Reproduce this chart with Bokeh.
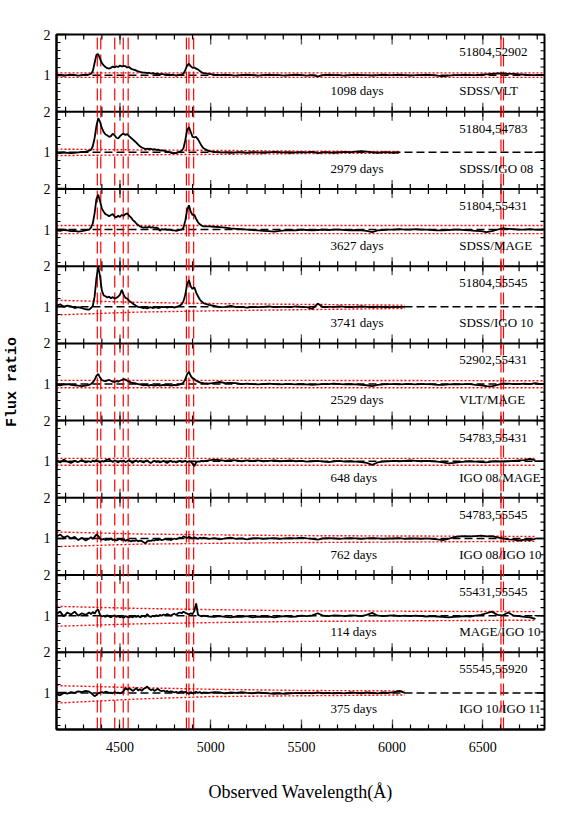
from bokeh.plotting import figure
from bokeh.models import ColumnDataSource, FixedTicker, Range1d, CustomJSTickFormatter
from bokeh.embed import file_html
from bokeh.resources import INLINE
from bokeh.core.properties import value

# ---------------- data ----------------
# sampling grid of the ratio spectra (Angstrom)
wavelength = (list(range(4150, 4340, 20)) + list(range(4340, 4970, 10))
              + list(range(4990, 6821, 30)) + [6835])

ratio_51804_52902 = [
    1.00, 1.01, 0.99, 1.00, 1.01, 1.00, 0.99, 1.00, 1.01, 1.02,
    1.03, 1.10, 1.30, 1.50, 1.52, 1.40, 1.30, 1.24, 1.20, 1.17,
    1.16, 1.18, 1.21, 1.19, 1.22, 1.20, 1.24, 1.21, 1.23, 1.22,
    1.19, 1.20, 1.16, 1.14, 1.13, 1.11, 1.09, 1.08, 1.07, 1.06,
    1.06, 1.05, 1.06, 1.04, 1.05, 1.03, 1.04, 1.03, 1.02, 1.03,
    1.02, 1.01, 1.02, 1.01, 1.00, 1.01, 1.00, 0.99, 1.00, 1.01,
    1.01, 1.04, 1.12, 1.24, 1.28, 1.22, 1.18, 1.19, 1.16, 1.14,
    1.10, 1.07, 1.05,
    1.03, 1.01, 1.00, 1.01, 1.00, 0.99, 1.00, 1.01, 1.00, 0.99,
    1.00, 1.01, 1.00, 1.00, 0.99, 1.00, 1.01, 1.00, 0.99, 1.00,
    0.97, 1.00, 1.01, 1.00, 1.00, 0.99, 1.00, 1.01, 1.00, 1.00,
    0.99, 1.00, 1.01, 1.00, 1.00, 1.01, 1.00, 0.99, 1.00, 1.00,
    1.01, 1.00, 0.99, 0.97, 0.99, 1.00, 1.00, 1.01, 1.00, 1.00,
    1.01, 1.02, 1.03, 1.04, 1.04, 1.03, 1.03, 1.02, 1.01, 1.00,
    1.00, 1.00, 1.00,
]
ratio_51804_54783 = [
    0.99, 0.98, 1.00, 0.99, 0.98, 0.99, 1.00, 1.01, 1.02, 1.04,
    1.06, 1.15, 1.35, 1.65, 1.84, 1.75, 1.60, 1.50, 1.44, 1.42,
    1.38, 1.40, 1.46, 1.42, 1.36, 1.34, 1.40, 1.44, 1.46, 1.43,
    1.45, 1.40, 1.36, 1.32, 1.28, 1.24, 1.19, 1.15, 1.12, 1.10,
    1.08, 1.09, 1.08, 1.09, 1.07, 1.08, 1.06, 1.07, 1.05, 1.04,
    1.05, 1.03, 1.02, 1.01, 0.99, 0.98, 0.99, 0.98, 1.00, 1.02,
    1.04, 1.10, 1.30, 1.55, 1.62, 1.50, 1.38, 1.37, 1.38, 1.32,
    1.24, 1.16, 1.10,
    1.03, 1.01, 1.00, 1.00, 0.99, 1.00, 1.00, 0.99, 1.00, 1.00,
    0.99, 1.00, 1.01, 1.00, 1.00, 0.99, 1.00, 1.00, 1.00, 1.01,
    0.98, 1.00, 1.00, 0.99, 1.00, 1.01, 1.00, 1.02, 1.03, 1.02,
    1.00, 0.99, 1.00, 1.00, 0.99, 1.00,
]
ratio_51804_55431 = [
    0.98, 0.97, 0.99, 0.98, 0.96, 0.97, 0.95, 0.96, 0.98, 1.00,
    1.05, 1.15, 1.40, 1.75, 1.86, 1.70, 1.52, 1.44, 1.38, 1.36,
    1.33, 1.36, 1.38, 1.32, 1.30, 1.34, 1.31, 1.36, 1.34, 1.38,
    1.40, 1.34, 1.30, 1.24, 1.20, 1.15, 1.11, 1.08, 1.06, 1.05,
    1.06, 1.05, 1.07, 1.05, 1.06, 1.04, 1.05, 1.03, 0.97, 1.01,
    1.00, 1.01, 0.99, 1.00, 0.99, 0.98, 0.98, 0.97, 0.98, 0.99,
    1.00, 1.05, 1.22, 1.48, 1.60, 1.44, 1.36, 1.36, 1.26, 1.18,
    1.13, 1.10, 1.08,
    1.08, 1.07, 1.06, 1.05, 1.03, 1.02, 1.01, 1.00, 0.99, 0.98,
    0.97, 0.96, 0.95, 0.97, 0.98, 0.99, 0.98, 1.00, 0.99, 0.98,
    0.99, 1.00, 0.99, 1.00, 1.00, 0.99, 0.98, 0.99, 0.98, 0.97,
    0.94, 0.98, 0.99, 1.00, 1.00, 1.01, 1.00, 1.00, 1.01, 1.00,
    1.00, 0.99, 0.98, 0.98, 0.99, 1.00, 1.00, 0.99, 0.98, 0.97,
    0.96, 0.94, 0.96, 1.00, 1.03, 1.02, 1.01, 1.00, 1.00, 1.01,
    1.00, 1.00, 1.01,
]
ratio_51804_55545 = [
    1.03, 1.06, 1.00, 1.03, 1.01, 0.97, 0.99, 0.97, 0.94, 0.93,
    0.97, 1.02, 1.25, 1.70, 2.00, 1.75, 1.40, 1.28, 1.26, 1.23,
    1.25, 1.21, 1.24, 1.20, 1.22, 1.25, 1.30, 1.42, 1.30, 1.22,
    1.20, 1.15, 1.12, 1.08, 1.05, 1.02, 1.00, 0.99, 0.98, 0.97,
    0.98, 0.96, 0.98, 0.99, 0.97, 0.98, 0.99, 0.97, 0.98, 1.00,
    0.99, 1.00, 0.98, 1.00, 0.99, 1.00, 0.98, 1.00, 1.01, 1.03,
    1.06, 1.14, 1.30, 1.55, 1.66, 1.50, 1.44, 1.48, 1.35, 1.26,
    1.18, 1.13, 1.09,
    1.05, 1.02, 0.99, 1.00, 1.02, 0.99, 1.00, 0.98, 1.00, 0.99,
    1.00, 1.01, 0.99, 1.00, 1.00, 0.99, 1.01, 1.00, 0.99, 0.95,
    1.08, 0.99, 1.00, 1.00, 1.01, 1.00, 0.99, 1.00, 1.01, 1.00,
    0.99, 1.00, 1.00, 0.99, 1.00, 1.00, 1.00,
]
ratio_52902_55431 = [
    0.98, 0.97, 0.99, 1.00, 0.98, 0.97, 0.96, 0.95, 0.96, 0.98,
    1.00, 1.04, 1.10, 1.20, 1.25, 1.16, 1.10, 1.08, 1.07, 1.09,
    1.10, 1.08, 1.06, 1.05, 1.07, 1.06, 1.08, 1.10, 1.12, 1.11,
    1.08, 1.06, 1.04, 1.03, 1.02, 1.01, 1.00, 0.99, 0.98, 0.97,
    0.98, 0.97, 0.96, 0.98, 0.97, 0.96, 0.97, 0.98, 0.96, 0.97,
    0.98, 0.97, 0.98, 0.97, 0.96, 0.97, 0.98, 0.97, 0.98, 0.99,
    1.00, 1.04, 1.12, 1.24, 1.30, 1.20, 1.14, 1.12, 1.08, 1.06,
    1.04, 1.03, 1.02,
    1.01, 1.03, 1.05, 1.02, 1.03, 1.02, 1.00, 1.01, 1.00, 0.99,
    1.00, 1.01, 1.00, 0.99, 1.00, 1.00, 0.99, 1.00, 0.99, 0.98,
    0.99, 1.00, 1.00, 1.01, 1.00, 0.99, 1.00, 0.99, 0.98, 0.97,
    0.95, 0.98, 0.99, 1.00, 1.00, 0.99, 1.00, 1.00, 0.99, 1.00,
    1.00, 0.99, 0.98, 0.98, 0.99, 1.00, 0.99, 1.00, 1.00, 0.98,
    0.97, 0.95, 0.94, 0.98, 1.01, 1.01, 1.00, 1.00, 1.01, 1.00,
    1.02, 1.00, 1.00,
]
ratio_54783_55431 = [
    1.02, 0.97, 1.04, 0.99, 0.96, 1.01, 0.98, 1.03, 0.97, 1.00,
    0.98, 1.02, 0.99, 1.03, 1.00, 0.97, 1.01, 0.99, 1.02, 1.04,
    1.05, 1.01, 0.98, 1.02, 1.00, 0.97, 1.01, 0.99, 1.02, 0.98,
    1.00, 1.03, 0.99, 0.96, 1.00, 1.02, 0.98, 1.01, 0.99, 0.97,
    1.00, 1.02, 0.98, 0.96, 0.99, 1.01, 0.98, 1.00, 0.97, 0.99,
    1.01, 0.98, 0.96, 0.99, 1.01, 0.98, 1.00, 0.97, 0.99, 1.01,
    0.98, 0.99, 1.01, 0.98, 1.00, 0.99, 0.94, 0.88, 0.97, 1.00,
    0.99, 1.01, 1.00,
    1.02, 1.04, 1.03, 1.01, 1.03, 1.02, 1.00, 1.02, 1.01, 1.02,
    1.00, 1.01, 1.02, 1.00, 1.01, 1.02, 1.00, 1.01, 0.99, 1.00,
    1.01, 0.99, 0.98, 1.00, 1.01, 0.99, 1.00, 0.99, 0.98, 0.96,
    0.91, 0.97, 0.99, 1.00, 1.01, 1.00, 1.01, 1.02, 1.01, 1.00,
    1.01, 1.00, 0.99, 0.97, 0.95, 0.96, 0.98, 0.99, 1.00, 0.99,
    0.98, 0.97, 0.99, 1.00, 0.99, 1.00, 1.01, 1.02, 1.03, 1.06,
    1.02,
]
ratio_54783_55545 = [
    1.05, 1.10, 1.02, 1.06, 1.00, 1.04, 0.96, 1.02, 0.95, 1.00,
    1.03, 0.99, 1.04, 1.10, 1.06, 1.00, 0.97, 0.99, 0.96, 0.98,
    0.97, 1.00, 0.96, 0.98, 0.95, 0.97, 0.99, 0.96, 0.98, 0.94,
    0.97, 0.95, 0.93, 0.95, 0.94, 0.96, 0.93, 0.95, 0.94, 0.91,
    0.88, 0.93, 0.95, 0.94, 0.96, 0.95, 0.97, 0.96, 0.98, 0.96,
    0.97, 0.99, 0.97, 0.98, 0.96, 0.98, 1.00, 0.98, 1.00, 1.02,
    1.01, 1.05, 1.03, 1.01, 1.04, 1.02, 1.00, 1.03, 1.01, 0.99,
    1.02, 1.00, 1.02,
    0.99, 1.01, 0.98, 1.00, 1.02, 0.99, 1.00, 0.98, 1.00, 1.01,
    0.99, 1.00, 1.01, 0.99, 1.00, 1.01, 1.00, 1.02, 1.00, 0.99,
    0.97, 1.00, 1.01, 1.00, 0.99, 1.00, 1.01, 1.00, 0.99, 1.00,
    1.01, 1.00, 0.99, 1.00, 1.00, 1.01, 0.99, 1.00, 1.00, 0.99,
    1.00, 0.99, 0.98, 0.96, 0.99, 1.03, 1.05, 1.06, 1.05, 1.06,
    1.07, 1.05, 1.06, 1.03, 1.00, 0.98, 0.97, 0.95, 0.97, 0.96,
    0.99,
]
ratio_55431_55545 = [
    1.05, 1.10, 0.98, 1.08, 1.03, 1.10, 1.00, 1.06, 1.02, 1.08,
    1.04, 1.09, 1.05, 1.12, 1.15, 1.02, 0.98, 1.00, 0.97, 1.01,
    0.98, 0.96, 0.99, 1.01, 0.97, 0.99, 0.96, 0.98, 0.95, 0.99,
    0.97, 0.96, 0.98, 0.96, 0.99, 0.97, 1.00, 0.96, 0.98, 1.00,
    0.97, 1.04, 0.99, 0.97, 1.00, 0.98, 1.01, 0.99, 1.02, 1.00,
    1.03, 1.01, 1.04, 1.02, 1.00, 1.03, 1.05, 1.02, 1.06, 1.08,
    1.06, 1.10, 1.07, 1.05, 1.03, 1.06, 1.04, 1.12, 1.30, 1.02,
    1.00, 0.98, 1.00,
    0.98, 0.97, 0.99, 0.97, 0.96, 0.98, 0.97, 0.99, 0.96, 0.98,
    0.97, 0.98, 0.96, 0.98, 0.99, 0.97, 0.98, 1.00, 0.99, 1.01,
    1.06, 1.00, 0.99, 1.01, 1.00, 0.99, 1.01, 1.00, 0.99, 1.02,
    1.07, 1.00, 0.99, 1.00, 1.01, 0.99, 1.00, 0.99, 1.00, 0.99,
    0.98, 0.99, 0.98, 0.97, 0.96, 0.97, 0.98, 0.99, 0.98, 1.00,
    1.02, 1.06, 1.10, 1.02, 1.01, 1.08, 1.00, 0.99, 0.97, 0.96,
    0.92,
]
ratio_55545_55920 = [
    0.97, 0.94, 1.00, 0.98, 1.02, 1.00, 1.04, 1.02, 1.05, 1.03,
    1.00, 0.96, 0.92, 0.95, 0.99, 1.01, 1.02, 1.00, 1.03, 1.02,
    1.00, 1.01, 0.99, 1.02, 1.00, 1.01, 0.99, 1.01, 1.04, 1.12,
    1.08, 1.11, 1.09, 1.05, 1.08, 1.12, 1.06, 1.09, 1.05, 1.10,
    1.12, 1.16, 1.10, 1.07, 1.09, 1.05, 1.08, 1.10, 1.06, 1.04,
    1.06, 1.03, 1.05, 1.02, 1.04, 1.03, 1.01, 1.03, 1.00, 1.02,
    1.04, 1.01, 1.03, 1.00, 0.98, 1.02, 0.99, 1.01, 1.03, 1.00,
    1.02, 0.99, 1.01,
    1.00, 1.02, 1.01, 0.99, 1.01, 1.00, 1.02, 1.00, 0.99, 1.01,
    1.00, 0.99, 0.98, 0.99, 0.98, 0.99, 1.00, 0.99, 1.00, 0.99,
    1.01, 0.99, 1.00, 0.99, 1.00, 0.99, 1.01, 1.00, 0.99, 1.01,
    1.00, 0.99, 1.01, 1.00, 1.02, 1.05, 1.00,
]

epoch_pairs = ["51804,52902", "51804,54783", "51804,55431", "51804,55545", "52902,55431",
               "54783,55431", "54783,55545", "55431,55545", "55545,55920"]
day_spans = ["1098 days", "2979 days", "3627 days", "3741 days", "2529 days",
             "648 days", "762 days", "114 days", "375  days"]
instrument_pairs = ["SDSS/VLT", "SDSS/IGO 08", "SDSS/MAGE", "SDSS/IGO 10", "VLT/MAGE",
                    "IGO 08/MAGE", "IGO 08/IGO 10", "MAGE/IGO 10", "IGO 10/IGO 11"]

# error envelopes (red dotted), given at these wavelengths + the end of each spectrum
envelope_knots = [4150, 4600, 5000, 5500]
envelope_upper = [
    [1.055, 1.055, 1.055, 1.055, 1.055],
    [1.08, 1.06, 1.05, 1.03, 1.02],
    [1.10, 1.10, 1.10, 1.10, 1.10],
    [1.16, 1.11, 1.08, 1.06, 1.04],
    [1.09, 1.09, 1.09, 1.09, 1.08],
    [1.07, 1.07, 1.07, 1.07, 1.07],
    [1.16, 1.11, 1.09, 1.07, 1.05],
    [1.23, 1.18, 1.15, 1.12, 1.10],
    [1.18, 1.13, 1.09, 1.06, 1.05],
]
envelope_lower = [
    [0.945, 0.945, 0.945, 0.945, 0.945],
    [0.92, 0.94, 0.95, 0.97, 0.98],
    [0.90, 0.90, 0.90, 0.90, 0.90],
    [0.80, 0.87, 0.90, 0.93, 0.96],
    [0.91, 0.91, 0.91, 0.91, 0.91],
    [0.90, 0.90, 0.90, 0.90, 0.90],
    [0.80, 0.86, 0.88, 0.90, 0.93],
    [0.74, 0.80, 0.83, 0.86, 0.89],
    [0.75, 0.85, 0.91, 0.93, 0.95],
]

line_wavelengths = [4375, 4394, 4471, 4518, 4545, 4866, 4880, 4906, 6600, 6614]
x_major_ticks = [4500, 5000, 5500, 6000, 6500]
x_minor_ticks = list(range(4200, 6900, 100))

ratios = [ratio_51804_52902, ratio_51804_54783, ratio_51804_55431, ratio_51804_55545,
          ratio_52902_55431, ratio_54783_55431, ratio_54783_55545, ratio_55431_55545,
          ratio_55545_55920]

# ---------------- layout ----------------
FONT = "Liberation Serif"
N = len(ratios)
STEP = 1.9              # height of one panel in ratio units (0.1 .. 2.0)
YMIN = 0.1
YTOP = YMIN + N * STEP
X0, X1 = 4150, 6840
FRAME_W, FRAME_H = 488, 695
px_y = FRAME_H / (N * STEP)
px_x = FRAME_W / (X1 - X0)
offsets = [(N - 1 - k) * STEP for k in range(N)]

p = figure(frame_width=FRAME_W, frame_height=FRAME_H,
           x_range=Range1d(X0, X1), y_range=Range1d(YMIN, YTOP),
           output_backend="svg", toolbar_location=None,
           min_border_left=51, min_border_right=20, min_border_top=34, min_border_bottom=70)
p.xgrid.visible = False
p.ygrid.visible = False
p.outline_line_color = "black"
p.outline_line_width = 2
p.background_fill_color = "white"

y_major = sorted(o + v for o in offsets for v in (1.0, 2.0))
y_minor = sorted(o + 0.2 * i for o in offsets for i in range(1, 10))

# bottom axis
xa = p.xaxis[0]
xa.ticker = FixedTicker(ticks=x_major_ticks, minor_ticks=x_minor_ticks)
xa.major_tick_in = 10
xa.major_tick_out = 0
xa.minor_tick_in = 5
xa.minor_tick_out = 0
xa.axis_line_width = 2
xa.major_tick_line_color = "#555555"
xa.major_tick_line_width = 1.3
xa.minor_tick_line_width = 1.2
xa.major_label_text_font = FONT
xa.major_label_text_font_size = "14px"
xa.major_label_text_color = "black"
xa.major_label_standoff = 12
xa.axis_label = "Observed Wavelength(Å)"
xa.axis_label_text_font = FONT
xa.axis_label_text_font_size = "18px"
xa.axis_label_text_font_style = "normal"
xa.axis_label_text_color = "black"
xa.axis_label_standoff = 27

# left axis
ya = p.yaxis[0]
ya.ticker = FixedTicker(ticks=y_major, minor_ticks=y_minor)
ya.formatter = CustomJSTickFormatter(code="""
const r = (tick - 1.0) / 1.9;
return Math.abs(r - Math.round(r)) < 0.05 ? '1' : '2';
""")
ya.major_tick_in = 10
ya.major_tick_out = 0
ya.minor_tick_in = 4
ya.minor_tick_out = 0
ya.axis_line_width = 2
ya.major_tick_line_width = 1.3
ya.minor_tick_line_width = 1.2
ya.major_label_text_font = FONT
ya.major_label_text_font_size = "14px"
ya.major_label_text_color = "black"
ya.major_label_standoff = 6
ya.axis_label = "Flux ratio"
ya.axis_label_text_font = "Liberation Mono"
ya.axis_label_text_font_style = "bold"
ya.axis_label_text_font_size = "15px"
ya.axis_label_text_color = "black"
ya.axis_label_standoff = 20

# panel separators; ticks on both sides of each separator, inward ticks on top and right
bounds = [offsets[k] + YMIN for k in range(N - 1)]
p.segment(x0=[X0] * len(bounds), x1=[X1] * len(bounds), y0=bounds, y1=bounds,
          line_color="black", line_width=2)
mx, my0, my1, nx, ny0, ny1 = [], [], [], [], [], []
for b in bounds:
    for t in x_major_ticks:
        mx.append(t); my0.append(b - 9 / px_y); my1.append(b + 9 / px_y)
    for t in x_minor_ticks:
        nx.append(t); ny0.append(b - 5 / px_y); ny1.append(b + 5 / px_y)
for t in x_major_ticks:
    mx.append(t); my0.append(YTOP - 10 / px_y); my1.append(YTOP)
for t in x_minor_ticks:
    nx.append(t); ny0.append(YTOP - 5 / px_y); ny1.append(YTOP)
p.segment(x0=mx, x1=mx, y0=my0, y1=my1, line_color="#555555", line_width=1.3)
p.segment(x0=nx, x1=nx, y0=ny0, y1=ny1, line_color="black", line_width=1.2)
p.segment(x0=[X1 - 10 / px_x] * len(y_major), x1=[X1] * len(y_major), y0=y_major, y1=y_major,
          line_color="black", line_width=1.3)
p.segment(x0=[X1 - 4 / px_x] * len(y_minor), x1=[X1] * len(y_minor), y0=y_minor, y1=y_minor,
          line_color="black", line_width=1.2)

# unit level (black dashed) in every panel
p.segment(x0=[X0] * N, x1=[X1] * N, y0=[o + 1 for o in offsets], y1=[o + 1 for o in offsets],
          line_color="black", line_width=1.5, line_dash="8 4")

# vertical red dashed line markers
p.segment(x0=line_wavelengths, x1=line_wavelengths,
          y0=[YMIN] * len(line_wavelengths), y1=[YTOP] * len(line_wavelengths),
          line_color="red", line_width=1.2, line_dash="12 5")

# envelopes and ratio spectra
for k, vals in enumerate(ratios):
    off = offsets[k]
    xs = wavelength[:len(vals)]
    end = X1 if xs[-1] >= 6830 else xs[-1]
    kx = envelope_knots + [end]
    p.line(kx, [v + off for v in envelope_upper[k]], line_color="red", line_width=1.4,
           line_dash="2 2")
    p.line(kx, [v + off for v in envelope_lower[k]], line_color="red", line_width=1.4,
           line_dash="2 2")
    p.line(xs, [v + off for v in vals], line_color="black", line_width=1.8)

# panel annotations
txt_top = ColumnDataSource(dict(x=[6370] * N, y=[o + 1.58 for o in offsets], t=epoch_pairs))
txt_days = ColumnDataSource(dict(x=[5660] * N, y=[o + 0.61 for o in offsets], t=day_spans))
txt_inst = ColumnDataSource(dict(x=[6370] * N, y=[o + 0.61 for o in offsets], t=instrument_pairs))
for src in (txt_top, txt_days, txt_inst):
    p.text(x="x", y="y", text="t", source=src, text_font=value(FONT), text_font_size="13px",
           text_align="left", text_baseline="middle", text_color="black")

open("out.html", "w").write(file_html(p, INLINE))
